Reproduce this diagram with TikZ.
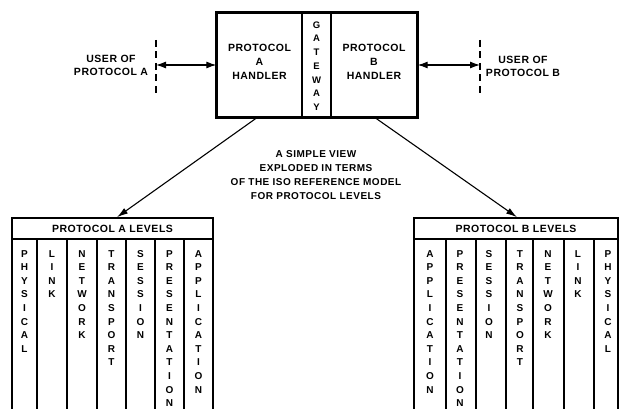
\documentclass[tikz,border=0pt]{standalone}
\usepackage{fontspec}
\setmainfont{Liberation Sans}
\newfontfamily\labfont{Liberation Sans}[LetterSpace=5]
\usetikzlibrary{arrows.meta}

\begin{document}
\begin{tikzpicture}[x=1pt,y=-1pt,
  lab/.style={font=\labfont\bfseries\fontsize{10.5}{14}\selectfont, align=center, inner sep=0pt},
  vlab/.style={font=\labfont\bfseries\fontsize{10}{13.6}\selectfont, align=center, inner sep=0pt, anchor=north},
  part/.style={draw, line width=1.3pt, inner sep=0pt, minimum height=104pt},
  frame/.style={line width=2.2pt},
  colline/.style={line width=1.4pt},
  hdr/.style={lab, draw, line width=1.6pt, minimum height=21pt},
  userline/.style={line width=1.7pt, dash pattern=on 7pt off 4.5pt},
  biarrow/.style={line width=1.1pt, {Latex[length=10pt,width=7pt]}-{Latex[length=10pt,width=7pt]}},
  explode/.style={line width=1.1pt, -{Latex[length=11pt,width=6.5pt]}}
]
\useasboundingbox (0,0) rectangle (619,409);
\clip (0,0) rectangle (619,409);

% gateway block
\node[part, minimum width=85pt] (hA) at (259.5,65) {};
\node[part, minimum width=29pt] (gw) at (316.5,65) {};
\node[part, minimum width=86pt] (hB) at (374,65) {};
\draw[frame] (hA.north west) rectangle (hB.south east);
\node[lab] (hAtext) at (259.5,62) {PROTOCOL\\A\\HANDLER};
\node[lab] (hBtext) at (374,62) {PROTOCOL\\B\\HANDLER};
\node[lab, font=\labfont\bfseries\fontsize{9.5}{13.7}\selectfont] (gwtext) at (316.5,66) {G\\A\\T\\E\\W\\A\\Y};

% users
\coordinate (uAtop) at (156,40);
\coordinate (uAbot) at (156,93);
\coordinate (uA) at (156,65);
\coordinate (uBtop) at (480,40);
\coordinate (uBbot) at (480,93);
\coordinate (uB) at (480,65);
\draw[userline] (uAtop) -- (uAbot);
\draw[userline] (uBtop) -- (uBbot);
\draw[biarrow] (uA) -- (hA.west);
\draw[biarrow] (hB.east) -- (uB);
\node[lab, font=\labfont\bfseries\fontsize{10.5}{13}\selectfont] (userA) at (111,65.5) {USER OF\\PROTOCOL A};
\node[lab, font=\labfont\bfseries\fontsize{10.5}{13}\selectfont] (userB) at (523,66.5) {USER OF\\PROTOCOL B};

% caption
\node[lab, font=\labfont\bfseries\fontsize{10}{14}\selectfont] (caption) at (316,175)
  {A SIMPLE VIEW\\EXPLODED IN TERMS\\OF THE ISO REFERENCE MODEL\\FOR PROTOCOL LEVELS};

% level tables
\node[hdr, minimum width=201pt] (levA) at (112.5,228.5) {PROTOCOL A LEVELS};
\node[hdr, minimum width=204pt] (levB) at (516,228.5) {PROTOCOL B LEVELS};

\foreach \x in {12,213} \draw[line width=1.6pt] (\x,239) -- (\x,412);
\foreach \x in {37,67,97,126,155,184} \draw[colline] (\x,239) -- (\x,412);
\foreach \x in {414,618} \draw[line width=1.6pt] (\x,239) -- (\x,412);
\foreach \x in {446,476,506,533,564,594} \draw[colline] (\x,239) -- (\x,412);

% protocol A columns
\node[vlab] (a1) at (24.5,250) {P\\H\\Y\\S\\I\\C\\A\\L};
\node[vlab] (a2) at (52,250) {L\\I\\N\\K};
\node[vlab] (a3) at (82,250) {N\\E\\T\\W\\O\\R\\K};
\node[vlab] (a4) at (111.5,250) {T\\R\\A\\N\\S\\P\\O\\R\\T};
\node[vlab] (a5) at (140.5,250) {S\\E\\S\\S\\I\\O\\N};
\node[vlab] (a6) at (169.5,250) {P\\R\\E\\S\\E\\N\\T\\A\\T\\I\\O\\N};
\node[vlab] (a7) at (198.5,250) {A\\P\\P\\L\\I\\C\\A\\T\\I\\O\\N};

% protocol B columns
\node[vlab] (b1) at (430,250) {A\\P\\P\\L\\I\\C\\A\\T\\I\\O\\N};
\node[vlab] (b2) at (460,250) {P\\R\\E\\S\\E\\N\\T\\A\\T\\I\\O\\N};
\node[vlab] (b3) at (489,250) {S\\E\\S\\S\\I\\O\\N};
\node[vlab] (b4) at (520,250) {T\\R\\A\\N\\S\\P\\O\\R\\T};
\node[vlab] (b5) at (548,250) {N\\E\\T\\W\\O\\R\\K};
\node[vlab] (b6) at (578,250) {L\\I\\N\\K};
\node[vlab] (b7) at (608,250) {P\\H\\Y\\S\\I\\C\\A\\L};

% exploded views
\draw[explode] ([xshift=-2.5pt]hA.south) -- ([xshift=4.5pt]levA.north);
\draw[explode] ([xshift=1pt]hB.south) -- ([xshift=1pt]levB.north);
\end{tikzpicture}
\end{document}
